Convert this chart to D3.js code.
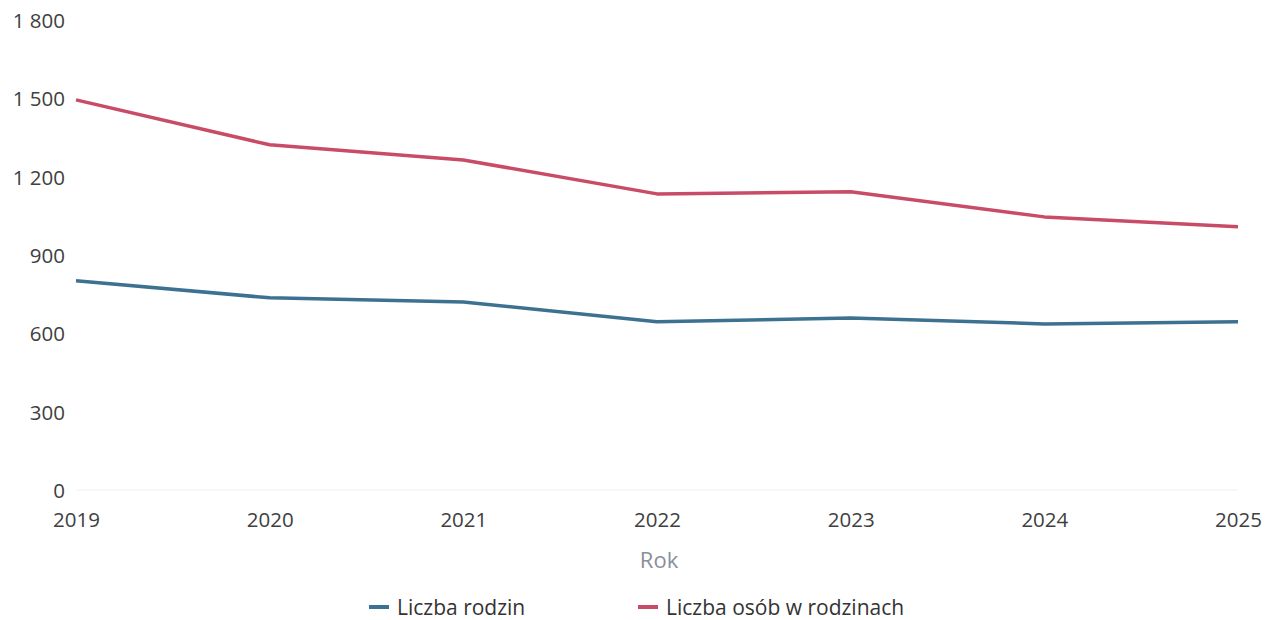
<!DOCTYPE html>
<html><head><meta charset="utf-8">
<script src="https://cdn.jsdelivr.net/npm/d3@7"></script>
<style>body{margin:0;background:#fff;} text{font-family:"Open Sans",sans-serif;}</style>
</head><body><svg id="c" width="1275" height="620"></svg>
<script>
const years = ["2019","2020","2021","2022","2023","2024","2025"];
const rodziny = [801, 736, 720, 644, 659, 636, 644];
const osoby = [1494, 1322, 1264, 1134, 1142, 1046, 1008];
const yTicks = [0, 300, 600, 900, 1200, 1500, 1800];
const seriesNames = ["Liczba rodzin", "Liczba osób w rodzinach"];
const colors = ["#3d7191", "#c94c66"];

const svg = d3.select("#c");
const x = d3.scalePoint().domain(years).range([76, 1238]);
const y = d3.scaleLinear().domain([0, 1800]).range([490, 20]);
const fmt = v => d3.format(",")(v).replace(/,/g, " ");

svg.append("line").attr("x1", 76).attr("x2", 1238).attr("y1", y(0)).attr("y2", y(0))
  .attr("stroke", "#eef0f3").attr("stroke-width", 1);

const ya = svg.append("g").attr("transform", "translate(65,1)")
  .call(d3.axisLeft(y).tickValues(yTicks).tickFormat(fmt).tickSize(0).tickPadding(0));
ya.select(".domain").remove();
ya.selectAll("text").attr("font-size", 20.5).attr("fill", "#404040").attr("font-family", "Open Sans");

const xa = svg.append("g").attr("transform", "translate(0,512)")
  .call(d3.axisBottom(x).tickSize(0).tickPadding(0));
xa.select(".domain").remove();
xa.selectAll("text").attr("font-size", 20.5).attr("fill", "#404040").attr("font-family", "Open Sans");

svg.append("text").attr("x", x("2022") + 2).attr("y", 568).attr("text-anchor", "middle")
  .attr("font-size", 22).attr("fill", "#8a8f9c").text("Rok");

const line = d3.line().x((d, i) => x(years[i])).y(d => y(d)).curve(d3.curveLinear);
[rodziny, osoby].forEach((s, k) => {
  svg.append("path").datum(s).attr("d", line).attr("fill", "none")
    .attr("stroke", colors[k]).attr("stroke-width", 3.5).attr("stroke-linejoin", "round");
});

const legX = [369, 638];
seriesNames.forEach((n, k) => {
  svg.append("line").attr("x1", legX[k]).attr("x2", legX[k] + 20).attr("y1", 607).attr("y2", 607)
    .attr("stroke", colors[k]).attr("stroke-width", 4);
  svg.append("text").attr("x", legX[k] + 28).attr("y", 615).attr("font-size", 21)
    .attr("fill", "#333").text(n);
});
</script></body></html>
